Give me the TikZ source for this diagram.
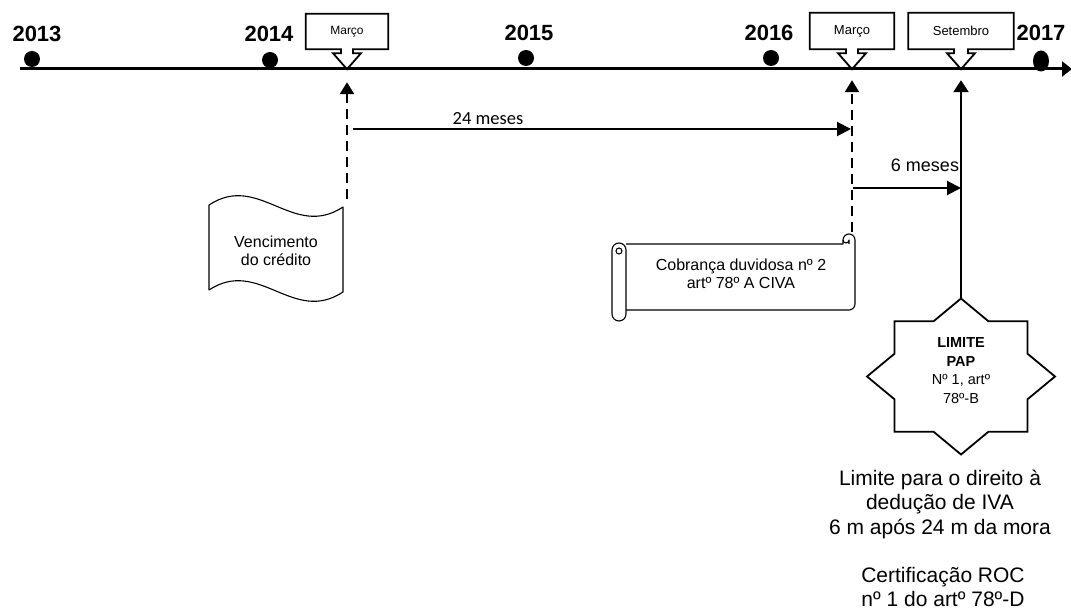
\documentclass[tikz,border=0pt]{standalone}
\usepackage{fontspec}
\setmainfont{Liberation Sans}
\newfontfamily\calibfont{Carlito}
\usetikzlibrary{arrows.meta,calc,shapes.geometric}

\begin{document}
\begin{tikzpicture}[x=1pt,y=-1pt,
  year/.style={font=\fontsize{22}{26}\selectfont\bfseries, inner sep=0pt},
  yeardot/.style={circle, fill=black, minimum size=16pt, inner sep=0pt},
  month/.style={font=\fontsize{13}{15}\selectfont, inner sep=0pt},
  callout/.style={draw, line width=1.8pt, line join=miter},
  timeline/.style={line width=3pt, -{Triangle[length=10pt,width=15pt]}},
  guide/.style={line width=2.5pt, dash pattern=on 10pt off 6pt, -{Triangle[length=12pt,width=14pt]}},
  solidguide/.style={line width=2.5pt, -{Triangle[length=12pt,width=15pt]}},
  span/.style={line width=2pt, -{Triangle[length=14pt,width=14pt]}},
  body/.style={font=\fontsize{16}{18}\selectfont, align=center, inner sep=0pt},
  outline/.style={draw, line width=1.1pt, line join=round},
  note/.style={font=\fontsize{21}{24.5}\selectfont, align=center, inner sep=0pt}
]
\useasboundingbox (0,0) rectangle (1071,612);

% main time axis
\coordinate (axisA) at (20,69);
\coordinate (axisB) at (1072,69);
\draw[timeline] (axisA) -- (axisB);

% years
\node[year] (y2013) at (37,34) {2013};
\node[year] (y2014) at (269,34) {2014};
\node[year] (y2015) at (529,33) {2015};
\node[year] (y2016) at (769,33) {2016};
\node[year] (y2017) at (1041,33) {2017};
\node[yeardot] (d2013) at (32,59) {};
\node[yeardot] (d2014) at (270,60) {};
\node[yeardot] (d2015) at (526,58) {};
\node[yeardot] (d2016) at (771,58) {};
\node[ellipse, fill=black, minimum width=16pt, minimum height=21pt, inner sep=0pt] (d2017) at (1041,61) {};

% month call-outs pointing at the axis
\node[month, font=\fontsize{12}{14}\selectfont, minimum width=82pt, minimum height=35pt] (m1) at (347,31.5) {Março};
\node[month, minimum width=84pt, minimum height=36pt] (m2) at (852,31) {Março};
\node[month, minimum width=105pt, minimum height=36pt] (set) at (961,31) {Setembro};
\foreach \b/\n/\w in {m1/6/14, m2/6/14, set/7/14} {
  \draw[callout] (\b.south west) -- (\b.north west) -- (\b.north east) -- (\b.south east)
    -- ($(\b.south)+(\n,0)$) -- ($(\b.south)+(\n,4)$) -- ($(\b.south)+(\w,4)$)
    -- ($(\b.south)+(0,20)$)
    -- ($(\b.south)+(-\w,4)$) -- ($(\b.south)+(-\n,4)$) -- ($(\b.south)+(-\n,0)$) -- cycle;
}
\coordinate (t1) at ($(m1.south)+(0,33)$);
\coordinate (t2) at ($(m2.south)+(0,31)$);
\coordinate (t3) at ($(set.south)+(0,31)$);

% due date (punched tape)
\draw[outline] (209,205) .. controls (259,172) and (293,240) .. (343,207)
  -- (343,292) .. controls (293,325) and (259,257) .. (209,290) -- cycle;
\node[body] (venc) at (276,251) {Vencimento\\do crédito};
\coordinate (v1) at (347,199);

% doubtful debt (scroll)
\draw[outline] (626,244) -- (843,244) -- (843,240)
  arc[start angle=180, end angle=360, radius=6] -- (855,304)
  arc[start angle=0, end angle=90, radius=6] -- (626,310);
\draw[outline] (843,240) arc[start angle=180, end angle=0, radius=3] -- (849,244);
\draw[outline] (612,250) arc[start angle=180, end angle=360, radius=7] -- (626,314)
  arc[start angle=0, end angle=180, radius=7] -- cycle;
\draw[outline] (619,251) circle[radius=3];
\node[body] (cob) at (741,274) {Cobrança duvidosa nº 2\\artº 78º A CIVA};
\coordinate (c1) at (852,232);

% deadline star (two overlapping squares, stretched sideways)
\coordinate (sc) at (961,376.5);
\draw[line width=1.8pt, line join=miter] ($(sc)+(0,-78)$)
  \foreach \a/\rx/\ry in {-67.5/71.9/59.7, -45/94/78, -22.5/71.9/59.7, 0/94/78,
     22.5/71.9/59.7, 45/94/78, 67.5/71.9/59.7, 90/94/78, 112.5/71.9/59.7, 135/94/78,
     157.5/71.9/59.7, 180/94/78, 202.5/71.9/59.7, 225/94/78, 247.5/71.9/59.7}
  { -- ($(sc)+({\rx*cos(\a)},{\ry*sin(\a)})$) } -- cycle;
\coordinate (startop) at ($(sc)+(0,-78)$);
\node[font=\fontsize{14.5}{18.5}\selectfont, align=center, inner sep=0pt] (pap) at (961,370.5)
  {\textbf{LIMITE}\\\textbf{PAP}\\Nº 1, artº\\78º-B};

% connectors
\draw[guide] (v1) -- (t1);
\draw[guide] (c1) -- (t2);
\draw[solidguide] (startop) -- (t3);

\coordinate (s24a) at (353,129);
\coordinate (s24b) at (851,129);
\draw[span] (s24a) -- (s24b);
\node[font=\calibfont\fontsize{18.5}{20}\selectfont, inner sep=0pt] (l24) at (488,119) {24 meses};

\coordinate (s6a) at (853,188);
\coordinate (s6b) at (961,188);
\draw[span] (s6a) -- (s6b);
\node[font=\fontsize{18}{20}\selectfont, inner sep=0pt] (l6) at (925,165) {6 meses};

% notes under the star
\node[note] (lim) at (940,504) {Limite para o direito à\\dedução de IVA\\6 m após 24 m da mora};
\node[note] (roc) at (943,587) {Certificação ROC\\nº 1 do artº 78º-D};
\end{tikzpicture}
\end{document}
